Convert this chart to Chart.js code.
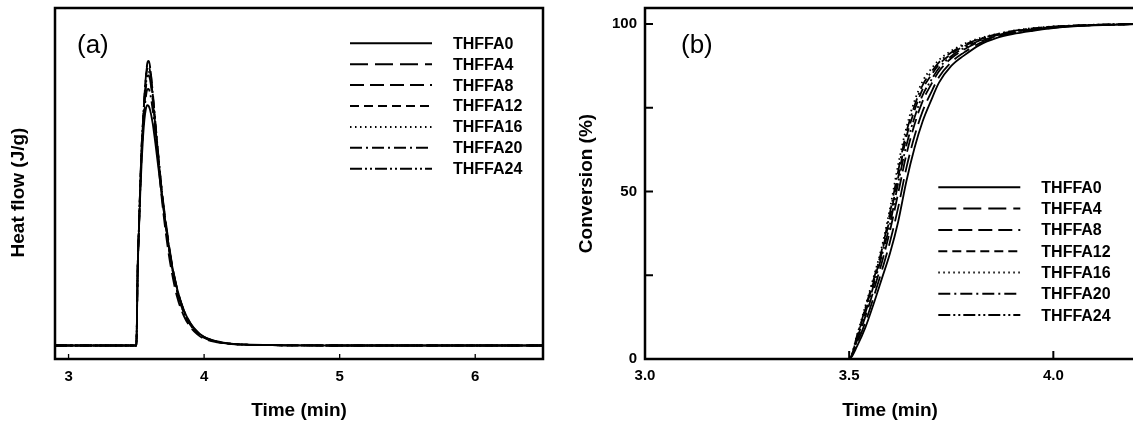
<!DOCTYPE html>
<html><head><meta charset="utf-8">
<script src="https://cdn.jsdelivr.net/npm/chart.js@4.4.1/dist/chart.umd.min.js"></script>
<style>
html,body{margin:0;padding:0;background:#fff;width:1133px;height:423px;overflow:hidden;}
#ca{position:absolute;left:0;top:0;}
#cb{position:absolute;left:560px;top:0;}
</style></head><body>
<canvas id="ca" width="560" height="423"></canvas>
<canvas id="cb" width="590" height="423"></canvas>
<script>
// ---------- data ----------
const SERIES = ['THFFA0','THFFA4','THFFA8','THFFA12','THFFA16','THFFA20','THFFA24'];

// (a) heat flow (arbitrary units, baseline = 0)
const TIME_A = [2.9,3.5,3.51,3.52,3.53,3.54,3.55,3.56,3.57,3.58,3.59,3.60,3.62,3.64,3.66,3.68,3.70,3.73,3.76,3.80,3.85,3.90,3.95,4.00,4.10,4.20,4.30,4.50,5.00,6.50];
const HF_0  = [0,0,2.2,3.5,4.6,5.5,6.2,6.7,7.0,7.12,7.1,7.0,6.6,6.0,5.35,4.7,4.05,3.2,2.45,1.7,1.05,0.66,0.41,0.26,0.12,0.055,0.03,0.01,0,0];
const HF_4  = [0,0,2.3,3.6,4.8,5.8,6.5,7.1,7.6,7.95,8.0,7.9,7.3,6.5,5.7,4.9,4.2,3.3,2.5,1.7,1.05,0.64,0.4,0.25,0.11,0.05,0.025,0.01,0,0];
const HF_8  = [0,0,2.3,3.6,4.9,6.0,6.7,7.4,7.95,8.35,8.43,8.3,7.5,6.5,5.55,4.65,3.9,2.95,2.2,1.45,0.88,0.54,0.33,0.2,0.09,0.04,0.02,0.01,0,0];
const HF_12 = [0,0,2.3,3.6,4.9,5.95,6.65,7.3,7.85,8.2,8.28,8.15,7.45,6.6,5.7,4.85,4.1,3.15,2.38,1.6,0.97,0.6,0.37,0.23,0.1,0.05,0.025,0.01,0,0];
const HF_16 = [0,0,2.3,3.6,4.85,5.9,6.6,7.2,7.7,8.02,8.1,8.0,7.35,6.55,5.7,4.9,4.15,3.2,2.42,1.63,0.99,0.61,0.38,0.24,0.1,0.05,0.025,0.01,0,0];
const HF_20 = [0,0,2.25,3.55,4.7,5.7,6.4,6.95,7.35,7.58,7.6,7.5,7.0,6.3,5.55,4.8,4.1,3.2,2.45,1.68,1.03,0.64,0.4,0.25,0.11,0.05,0.025,0.01,0,0];
const HF_24 = [0,0,2.3,3.6,4.9,6.0,6.7,7.4,7.95,8.3,8.4,8.28,7.55,6.65,5.75,4.9,4.15,3.2,2.4,1.62,0.98,0.6,0.37,0.23,0.1,0.05,0.025,0.01,0,0];
const TICKS_A = [3,4,5,6];

// (b) conversion (%)
const TIME_B = [3.0,3.5,3.52,3.54,3.56,3.58,3.60,3.62,3.64,3.66,3.68,3.70,3.72,3.75,3.78,3.82,3.86,3.90,3.95,4.00,4.05,4.10,4.20];
const CV_0  = [0,0,4,9.5,16.5,24,31.6,41,53,63,71,77,82.5,87.5,90.5,93.8,95.8,97,98,98.8,99.3,99.6,100];
const CV_4  = [0,0,4.9,11.1,18.5,26.4,35,45.2,57,66.5,74,79.4,84.2,88.6,91.4,94.3,96.1,97.3,98.2,98.9,99.4,99.65,100];
const CV_8  = [0,0,5.8,12.8,20.5,28.8,38.3,49.5,61,70,77,81.8,85.9,89.8,92.3,94.8,96.4,97.5,98.4,99.05,99.45,99.7,100];
const CV_12 = [0,0,6.8,14.9,23.1,31.8,42.3,54.2,66.2,74.2,80.6,84.6,87.9,91.1,93.3,95.4,96.8,97.8,98.6,99.2,99.5,99.75,100];
const CV_16 = [0,0,7.5,16,24.5,33.5,45,58,69,77,83,86.5,89.3,92,94,95.8,97,98,98.8,99.3,99.6,99.8,100];
const CV_20 = [0,0,7.2,15.4,23.8,32.6,43.7,56.1,67.6,75.6,81.8,85.5,88.6,91.5,93.7,95.6,96.9,97.9,98.7,99.25,99.55,99.8,100];
const CV_24 = [0,0,6.3,13.9,22,30.9,40.3,52.5,63.7,72.1,78.8,83.1,86.9,90.4,92.8,95.1,96.6,97.65,98.5,99.1,99.5,99.7,100];
const TICKS_BX = [3.0,3.5,4.0];
const TICKS_BY = [0,25,50,75,100];
const LABELED_BY = [0,50,100];

// ---------- styles ----------
const DASHES = [[], [18,7], [14,6], [9,5], [1.5,3.5], [12,4,2,4], [12,3,2,3,2,3]];
const FONT = "'Liberation Sans', Arial, Helvetica, sans-serif";
Chart.defaults.font.family = FONT;
Chart.defaults.color = '#000';

function makeSets(xs, ys, width) {
  return ys.map((arr, i) => ({
    label: SERIES[i],
    data: xs.map((x, j) => ({x: x, y: arr[j]})),
    borderColor: '#000',
    borderWidth: width,
    borderDash: DASHES[i],
    pointRadius: 0,
    fill: false,
    cubicInterpolationMode: 'monotone'
  }));
}

const framePlugin = {
  id: 'frame',
  afterDatasetsDraw(chart, args, o) {
    const ctx = chart.ctx, a = chart.chartArea;
    const xs = chart.scales.x, ys = chart.scales.y;
    ctx.save();
    ctx.strokeStyle = '#000';
    ctx.fillStyle = '#000';
    ctx.setLineDash([]);
    // inward tick marks
    ctx.lineWidth = o.tickWidth;
    ctx.beginPath();
    (o.xTicks || []).forEach(v => {
      const px = xs.getPixelForValue(v);
      ctx.moveTo(px, a.bottom); ctx.lineTo(px, a.bottom - o.tickLen);
    });
    (o.yTicks || []).forEach(v => {
      const py = ys.getPixelForValue(v);
      ctx.moveTo(a.left, py); ctx.lineTo(a.left + o.tickLen, py);
    });
    ctx.stroke();
    // frame
    ctx.lineWidth = 2.5;
    ctx.strokeRect(a.left, a.top, a.right - a.left, a.bottom - a.top);
    // panel tag
    ctx.font = '26px ' + FONT;
    ctx.textBaseline = 'alphabetic';
    ctx.textAlign = 'left';
    ctx.fillText(o.tag, o.tagX, o.tagY);
    // optional rotated y title
    if (o.yTitle) {
      ctx.save();
      ctx.translate(o.yTitleX, o.yTitleY);
      ctx.rotate(-Math.PI / 2);
      ctx.font = 'bold 19px ' + FONT;
      ctx.textAlign = 'center';
      ctx.textBaseline = 'middle';
      ctx.fillText(o.yTitle, 0, 0);
      ctx.restore();
    }
    // legend
    ctx.textAlign = 'left';
    chart.data.datasets.forEach((ds, i) => {
      const y = o.legY + i * o.legStep;
      ctx.lineWidth = 2;
      ctx.setLineDash(ds.borderDash || []);
      ctx.beginPath();
      ctx.moveTo(o.legX, y); ctx.lineTo(o.legX + 82, y);
      ctx.stroke();
      ctx.setLineDash([]);
      ctx.font = 'bold 16px ' + FONT;
      ctx.textBaseline = 'middle';
      ctx.fillText(ds.label, o.legX + 103, y + 1);
    });
    ctx.restore();
  }
};

const tickFont = {size: 15, weight: 'bold'};
const titleFont = {size: 19, weight: 'bold'};
const noPad = s => { s.paddingTop = 0; s.paddingBottom = 0; s.paddingLeft = 0; s.paddingRight = 0; };

new Chart(document.getElementById('ca'), {
  type: 'line',
  data: {datasets: makeSets(TIME_A, [HF_0,HF_4,HF_8,HF_12,HF_16,HF_20,HF_24], 1.8)},
  options: {
    responsive: false, animation: false, devicePixelRatio: 1,
    layout: {padding: {top: 8, right: 17, left: 0, bottom: 0}},
    plugins: {legend: {display: false}, tooltip: {enabled: false},
      frame: {xTicks: TICKS_A, yTicks: [], tickLen: 5, tickWidth: 1.3, tag: '(a)', tagX: 77, tagY: 53,
              yTitle: 'Heat flow (J/g)', yTitleX: 19, yTitleY: 192.5,
              legX: 350, legY: 43.3, legStep: 20.9}},
    scales: {
      x: {type: 'linear', min: 2.9, max: 6.5,
          afterBuildTicks: s => { s.ticks = TICKS_A.map(v => ({value: v})); },
          afterFit: s => { s.height = 64; noPad(s); },
          grid: {display: false, drawTicks: false}, border: {display: false},
          ticks: {font: tickFont, padding: 9, maxRotation: 0, callback: v => String(v)},
          title: {display: true, text: 'Time (min)', font: titleFont, padding: {top: 0, bottom: 1}}},
      y: {type: 'linear', min: -0.4, max: 10,
          afterFit: s => { s.width = 55; noPad(s); },
          grid: {display: false, drawTicks: false}, border: {display: false},
          ticks: {display: false},
          title: {display: false}}
    }
  },
  plugins: [framePlugin]
});

new Chart(document.getElementById('cb'), {
  type: 'line',
  data: {datasets: makeSets(TIME_B, [CV_0,CV_4,CV_8,CV_12,CV_16,CV_20,CV_24], 1.8)},
  options: {
    responsive: false, animation: false, devicePixelRatio: 1,
    layout: {padding: {top: 8, right: 15, left: 0, bottom: 0}},
    plugins: {legend: {display: false}, tooltip: {enabled: false},
      frame: {xTicks: TICKS_BX, yTicks: TICKS_BY, tickLen: 8, tickWidth: 2, tag: '(b)', tagX: 121, tagY: 53,
              legX: 378.3, legY: 187.3, legStep: 21.3}},
    scales: {
      x: {type: 'linear', min: 3.0, max: 4.2,
          afterBuildTicks: s => { s.ticks = TICKS_BX.map(v => ({value: v})); },
          afterFit: s => { s.height = 64; noPad(s); },
          grid: {display: false, drawTicks: false}, border: {display: false},
          ticks: {font: tickFont, padding: 8, maxRotation: 0, callback: v => Number(v).toFixed(1)},
          title: {display: true, text: 'Time (min)', font: titleFont, padding: {top: 0, bottom: 1}}},
      y: {type: 'linear', min: 0, max: 104.8,
          afterBuildTicks: s => { s.ticks = TICKS_BY.map(v => ({value: v})); },
          afterFit: s => { s.width = 85; noPad(s); },
          grid: {display: false, drawTicks: false}, border: {display: false},
          ticks: {font: tickFont, padding: 8, callback: v => LABELED_BY.includes(v) ? String(v) : ''},
          title: {display: true, text: 'Conversion (%)', font: titleFont, padding: {top: 15.6, bottom: 0}}}
    }
  },
  plugins: [framePlugin]
});
</script>
</body></html>
